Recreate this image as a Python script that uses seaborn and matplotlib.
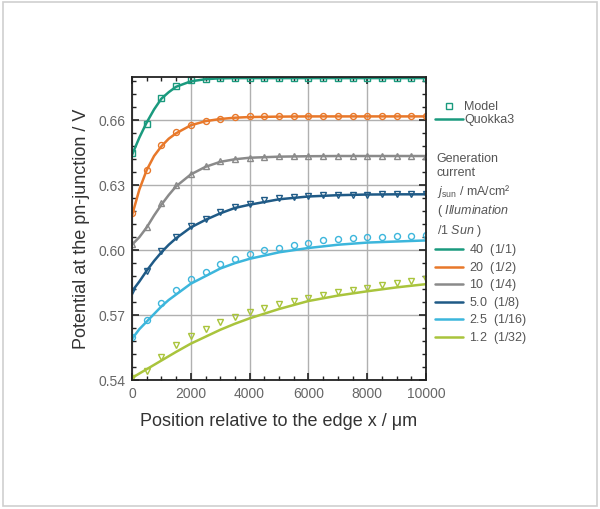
import numpy as np
import pandas as pd
import seaborn as sns
import matplotlib.pyplot as plt
from matplotlib.lines import Line2D
from matplotlib.patches import Rectangle
from matplotlib.ticker import MultipleLocator

# Quokka3 simulation (lines)
x_line = [0, 250, 500, 750, 1000, 1250, 1500, 2000, 2500, 3000, 3500, 4000,
          5000, 6000, 7000, 8000, 9000, 10000]
q40 = [0.644, 0.652, 0.659, 0.665, 0.670, 0.673, 0.6755, 0.678, 0.679, 0.6794, 0.6795, 0.6795,
       0.6795, 0.6795, 0.6795, 0.6795, 0.6795, 0.6795]
q20 = [0.616, 0.628, 0.637, 0.6435, 0.648, 0.6515, 0.654, 0.6577, 0.6596, 0.6606, 0.6612, 0.6615,
       0.6617, 0.6618, 0.6618, 0.6618, 0.6618, 0.6618]
q10 = [0.6025, 0.606, 0.6105, 0.616, 0.621, 0.6255, 0.6295, 0.635, 0.6385, 0.6408, 0.642, 0.6427,
       0.6432, 0.6434, 0.6435, 0.6435, 0.6435, 0.6435]
q5 = [0.581, 0.5855, 0.5905, 0.595, 0.599, 0.6025, 0.6055, 0.6105, 0.614, 0.617, 0.6195, 0.621,
      0.6235, 0.6248, 0.6254, 0.6257, 0.6258, 0.6258]
q25 = [0.559, 0.5635, 0.567, 0.5705, 0.574, 0.577, 0.5795, 0.5845, 0.588, 0.5915, 0.594, 0.596,
       0.599, 0.601, 0.6025, 0.6035, 0.604, 0.6045]
q12 = [0.541, 0.543, 0.545, 0.547, 0.549, 0.551, 0.553, 0.5568, 0.560, 0.5632, 0.566, 0.5685,
       0.5728, 0.5765, 0.579, 0.581, 0.5828, 0.5843]

# analytical model (markers)
x_model = [0, 500, 1000, 1500, 2000, 2500, 3000, 3500, 4000, 4500, 5000,
           5500, 6000, 6500, 7000, 7500, 8000, 8500, 9000, 9500, 10000]
m40 = [0.645, 0.6585, 0.6705, 0.6757, 0.6786, 0.6793, 0.6795, 0.6795, 0.6795, 0.6795, 0.6795,
       0.6795, 0.6795, 0.6795, 0.6795, 0.6795, 0.6795, 0.6795, 0.6795, 0.6795, 0.6795]
m20 = [0.617, 0.637, 0.6485, 0.6545, 0.658, 0.6598, 0.6608, 0.6614, 0.6618, 0.662, 0.662,
       0.662, 0.662, 0.662, 0.662, 0.662, 0.662, 0.662, 0.662, 0.662, 0.662]
m10 = [0.603, 0.6105, 0.6218, 0.630, 0.6352, 0.6388, 0.641, 0.6422, 0.6428, 0.6432, 0.6434,
       0.6435, 0.6435, 0.6435, 0.6435, 0.6435, 0.6435, 0.6435, 0.6435, 0.6435, 0.6435]
m5 = [0.581, 0.5905, 0.5995, 0.606, 0.611, 0.6145, 0.6175, 0.620, 0.6215, 0.623, 0.624,
      0.6245, 0.625, 0.6253, 0.6255, 0.6256, 0.6257, 0.6258, 0.6258, 0.6258, 0.6258]
m25 = [0.560, 0.5676, 0.5755, 0.5815, 0.5865, 0.590, 0.5935, 0.596, 0.598, 0.600, 0.601,
       0.6025, 0.6035, 0.6045, 0.605, 0.6055, 0.606, 0.6063, 0.6065, 0.6067, 0.6068]
m12 = [0.541, 0.5442, 0.5507, 0.5562, 0.5603, 0.5638, 0.5669, 0.5693, 0.5714, 0.5735, 0.5752,
       0.5767, 0.578, 0.5795, 0.5807, 0.5817, 0.5827, 0.5837, 0.5847, 0.5856, 0.5865]

currents = ['40', '20', '10', '5.0', '2.5', '1.2']
suns = ['(1/1)', '(1/2)', '(1/4)', '(1/8)', '(1/16)', '(1/32)']
colors = ['#1a9a7e', '#e8782a', '#8a8a8a', '#1f5a86', '#3cb6dc', '#a9c43c']
markers = ['s', 'o', '^', 'v', 'o', 'v']
quokka = [q40, q20, q10, q5, q25, q12]
model = [m40, m20, m10, m5, m25, m12]

sns.set_style('ticks')
plt.rcParams['font.family'] = ['Liberation Sans', 'DejaVu Sans']
plt.rcParams['mathtext.fontset'] = 'custom'
plt.rcParams['mathtext.rm'] = 'Liberation Sans'
plt.rcParams['mathtext.it'] = 'Liberation Sans:italic'

fig = plt.figure(figsize=(6, 5.09), dpi=100)
fig.patches.append(Rectangle((0.005, 0.006), 0.99, 0.99, transform=fig.transFigure,
                             fill=False, edgecolor='#cfcfcf', linewidth=1.2))
ax = fig.add_axes([0.22, 0.2534, 0.49, 0.5953])

for cur, col, mk, q, m in zip(currents, colors, markers, quokka, model):
    df_q = pd.DataFrame({'x': x_line, 'V': q})
    df_m = pd.DataFrame({'x': x_model, 'V': m})
    sns.lineplot(data=df_q, x='x', y='V', color=col, lw=1.8, estimator=None, ax=ax)
    sns.lineplot(data=df_m, x='x', y='V', color=col, linestyle='', marker=mk,
                 markersize=4.3, markerfacecolor='none', markeredgecolor=col,
                 markeredgewidth=1.0, estimator=None, ax=ax)

ax.set_xlim(0, 10000)
ax.set_ylim(0.54, 0.68)
ax.set_xticks([0, 2000, 4000, 6000, 8000, 10000])
ax.set_yticks([0.54, 0.57, 0.60, 0.63, 0.66])
ax.set_yticklabels(['0.54', '0.57', '0.60', '0.63', '0.66'])
ax.xaxis.set_minor_locator(MultipleLocator(500))
ax.yaxis.set_minor_locator(MultipleLocator(0.006))
ax.grid(True, which='major', color='#b0b0b0', lw=1.0)
ax.tick_params(which='both', direction='in', top=True, right=True, colors='#222222',
               labelcolor='#666666', labelsize=10)
ax.tick_params(which='major', length=5, width=1.2, pad=5)
ax.tick_params(which='minor', length=3, width=1.0)
for s in ax.spines.values():
    s.set_linewidth(1.3)
    s.set_color('#222222')
ax.set_xlabel('Position relative to the edge x / μm', fontsize=13, color='#333333', labelpad=9)
ax.set_ylabel('Potential at the pn-junction / V', fontsize=13, color='#333333', labelpad=6)

# legend: model vs simulation
h_model = Line2D([], [], color=colors[0], marker='s', linestyle='', markersize=4.3,
                 markerfacecolor='none', markeredgewidth=1.0)
h_quokka = Line2D([], [], color=colors[0], lw=1.8)
leg1 = fig.legend(handles=[h_model, h_quokka], labels=['Model', 'Quokka3'],
                  loc='upper left', bbox_to_anchor=(0.715, 0.814), frameon=False,
                  fontsize=9, handlelength=2.2, handletextpad=0.1, labelspacing=0.1,
                  borderpad=0, labelcolor='#555555')

fig.text(0.728, 0.70,
         'Generation\ncurrent\n$j_{\\rm sun}$ / mA/cm²\n( $\\it{Illumination}$\n$\\it{/1\\ Sun}$ )',
         fontsize=9, color='#555555', va='top', ha='left', linespacing=1.3)

handles = [Line2D([], [], color=c, lw=1.8) for c in colors]
labels = [f'{c}  $\\it{{{s}}}$' for c, s in zip(currents, suns)]
leg2 = fig.legend(handles=handles, labels=labels, loc='upper left',
                  bbox_to_anchor=(0.715, 0.536), frameon=False, fontsize=9,
                  handlelength=2.2, handletextpad=0.5, labelspacing=0.12, borderpad=0,
                  labelcolor='#555555')

fig.savefig('out.png', dpi=100)
